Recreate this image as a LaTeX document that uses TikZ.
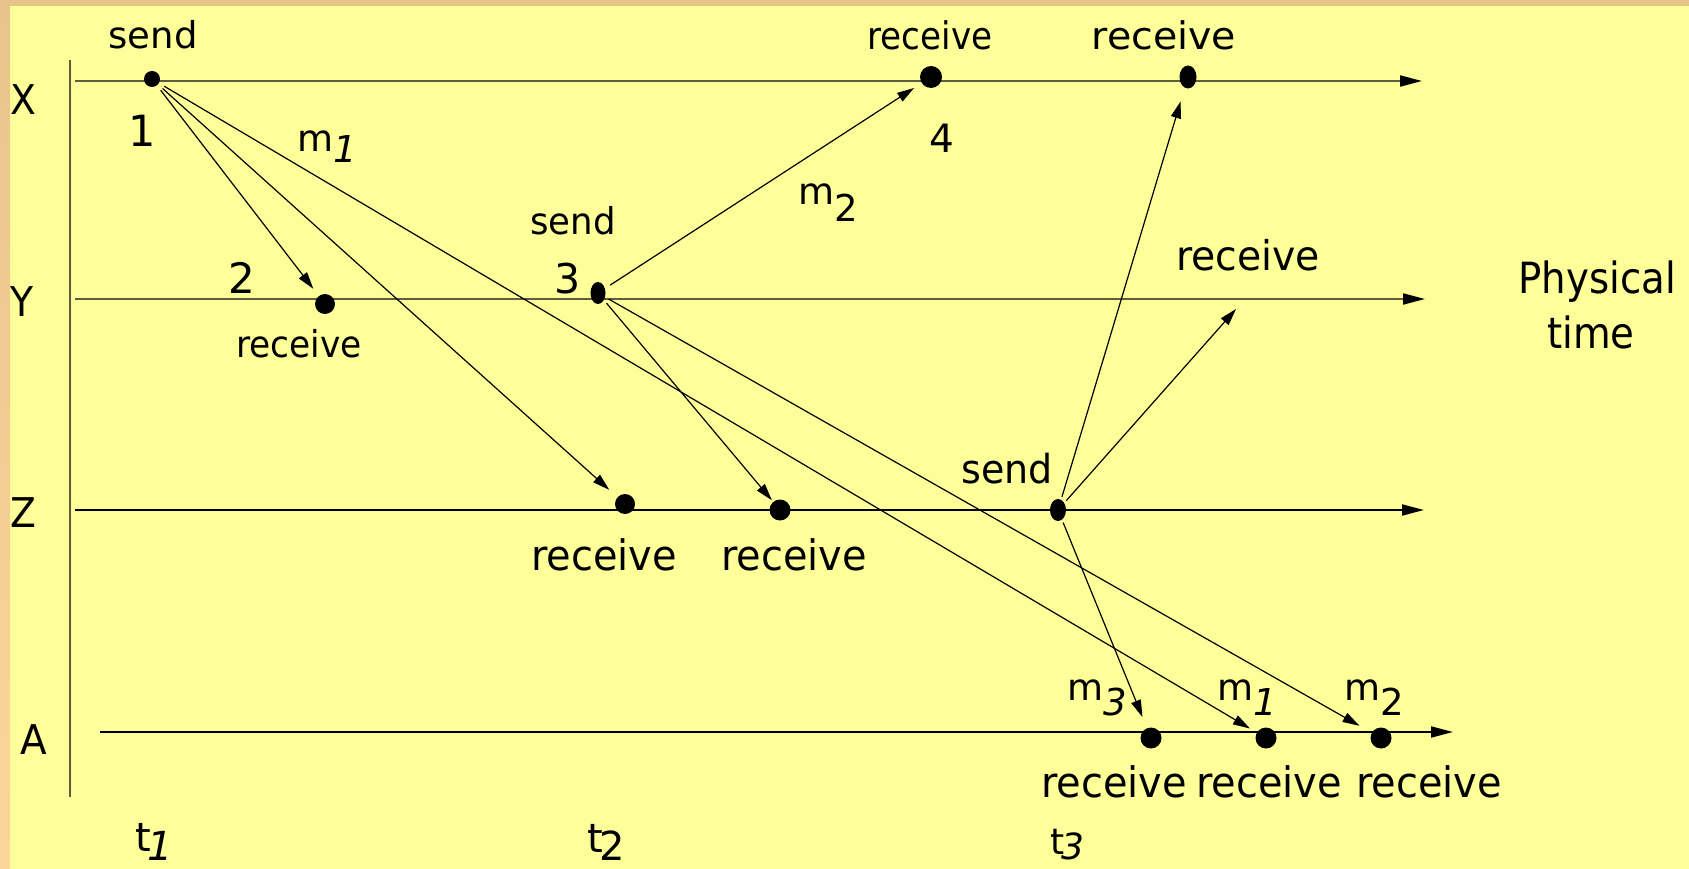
\documentclass[tikz,border=0pt]{standalone}
\usepackage{fontspec}
\setmainfont{DejaVu Sans}
\usepackage{graphicx}
\usetikzlibrary{arrows.meta,shapes.geometric}
\definecolor{bg}{HTML}{FFFF99}
\definecolor{topband}{HTML}{E6C48A}
\definecolor{leftbandtop}{HTML}{E8C48C}
\definecolor{leftbandbot}{HTML}{FDD49C}
\definecolor{axisol}{HTML}{5E5E3E}
\newcommand{\lab}[3]{\scalebox{#2}[1]{\fontsize{#1}{#1}\selectfont #3}}
\newcommand{\mlab}[2]{\fontsize{37}{37}\selectfont m\raisebox{-#2}{#1}}
\newcommand{\tlab}[3]{\fontsize{#1}{#1}\selectfont t\kern-0.08em\raisebox{-#3}[\height][0pt]{#2}}
\tikzset{
  evdot/.style={circle, fill=black, inner sep=0pt, minimum size=#1},
  evell/.style 2 args={ellipse, fill=black, inner sep=0pt, minimum width=#1, minimum height=#2},
  lbl/.style={inner sep=0pt, anchor=base},
  msgarrow/.style={-{Triangle[length=17pt,width=10pt]}, line width=1.2pt, black},
  timeline/.style={-{Triangle[length=22pt,width=11pt,color=black]}, line width=2pt},
}
\begin{document}
\begin{tikzpicture}[x=1pt,y=-1pt]
\useasboundingbox (0,0) rectangle (1689,869);
\fill[bg] (0,0) rectangle (1689,869);
\shade[top color=leftbandtop, bottom color=leftbandbot] (0,0) rectangle (10,869);
\fill[topband] (0,0) rectangle (1689,6);

% axes
\coordinate (vt) at (70,60); \coordinate (vb) at (70,797);
\draw[line width=2pt, axisol] (vt) -- (vb);
\coordinate (xs) at (75,81);  \coordinate (xe) at (1422,81);
\coordinate (ys) at (75,299); \coordinate (ye) at (1425,299);
\coordinate (zs0) at (75,510); \coordinate (ze) at (1424,510);
\coordinate (as) at (100,732); \coordinate (ae) at (1453,732);
\draw[timeline, axisol] (xs) -- (xe);
\draw[timeline, axisol] (ys) -- (ye);
\draw[timeline, black] (zs0) -- (ze);
\draw[timeline, black] (as) -- (ae);

% events
\node[evdot=16pt] (s1) at (152,79) {};
\node[evdot=20pt] (r2) at (325,304) {};
\node[evell={15pt}{22pt}] (s3) at (598,293) {};
\node[evdot=22pt] (r4) at (931,77) {};
\node[evell={17pt}{23pt}] (rx2) at (1188,77) {};
\node[evdot=20pt] (z1) at (625,504) {};
\node[evdot=21pt] (z2) at (780,510) {};
\node[evell={16pt}{22pt}] (zsend) at (1058,510) {};
\node[evdot=21pt] (a1) at (1151,738) {};
\node[evdot=21pt] (a2) at (1266,738) {};
\node[evdot=21pt] (a3) at (1381,738) {};
\coordinate (yr) at (1236,309);

% messages
\draw[msgarrow, shorten <=6pt, shorten >=9pt] (s1) -- (r2);
\draw[msgarrow, shorten <=6pt, shorten >=11pt] (s1) -- (z1);
\draw[msgarrow, shorten <=6pt, shorten >=8pt] (s1) -- (a2);
\draw[msgarrow, shorten <=6pt, shorten >=9pt] (s3) -- (r4);
\draw[msgarrow, shorten <=4pt, shorten >=2pt] (s3) -- (z2);
\draw[msgarrow, shorten <=4pt, shorten >=14pt] (s3) -- (a3);
\draw[msgarrow, shorten <=3pt, shorten >=14pt] (zsend) -- (rx2);
\draw[msgarrow, shorten <=3pt] (zsend) -- (yr);
\draw[msgarrow, shorten <=3pt, shorten >=12pt] (zsend) -- (a1);

% labels
\node[lbl] (lsend1) at (153,49) {\lab{37}{1}{send}};
\node[lbl] (lX) at (23.5,115) {\lab{41}{0.92}{X}};
\node[lbl] (l1) at (142,147) {\lab{43}{1}{1}};
\node[lbl,anchor=base west] (lm1a) at (297,152) {\mlab{\textit{1}}{11pt}};
\node[lbl] (lrecv4) at (930,50) {\lab{38}{0.9}{receive}};
\node[lbl] (lrecvx) at (1164,50) {\lab{38}{1.04}{receive}};
\node[lbl] (l4) at (942,153) {\lab{39}{1}{4}};
\node[lbl,anchor=base west] (lm2a) at (798,205) {\mlab{2}{17pt}};
\node[lbl] (lsend3) at (573,235) {\lab{37}{0.96}{send}};
\node[lbl] (l3) at (568,293) {\lab{41}{1}{3}};
\node[lbl] (l2) at (242,293) {\lab{42}{1}{2}};
\node[lbl] (lY) at (22,316) {\lab{41}{0.92}{Y}};
\node[lbl] (lrecv2) at (299,357) {\lab{37}{0.93}{receive}};
\node[lbl] (lrecvy) at (1248,270) {\lab{41}{0.96}{receive}};
\node[lbl] (lphys) at (1597,293) {\lab{43}{0.9}{Physical}};
\node[lbl] (ltime) at (1591,348) {\lab{43}{0.9}{time}};
\node[lbl] (lZ) at (23.7,527) {\lab{41}{0.92}{Z}};
\node[lbl] (lsend5) at (1007,483) {\lab{40}{0.95}{send}};
\node[lbl] (lrz1) at (604,570) {\lab{42}{0.95}{receive}};
\node[lbl] (lrz2) at (794,570) {\lab{42}{0.95}{receive}};
\node[lbl] (lA) at (34,754) {\lab{41}{0.95}{A}};
\node[lbl,anchor=base west] (lm3) at (1067,700) {\mlab{\textit{3}}{15pt}};
\node[lbl,anchor=base west] (lm1b) at (1217,700) {\mlab{\textit{1}}{15pt}};
\node[lbl,anchor=base west] (lm2b) at (1344,700) {\mlab{2}{15pt}};
\node[lbl] (lra1) at (1114,797) {\lab{42}{0.95}{receive}};
\node[lbl] (lra2) at (1269,797) {\lab{42}{0.95}{receive}};
\node[lbl] (lra3) at (1429,797) {\lab{42}{0.95}{receive}};
\node[lbl,anchor=base west] (lt1) at (135,851) {\tlab{40}{\textit{1}}{9pt}};
\node[lbl,anchor=base west] (lt2) at (587,852) {\tlab{40}{2}{8pt}};
\node[lbl,anchor=base west] (lt3) at (1050,854) {\tlab{36}{\textit{3}}{5pt}};
\end{tikzpicture}
\end{document}
